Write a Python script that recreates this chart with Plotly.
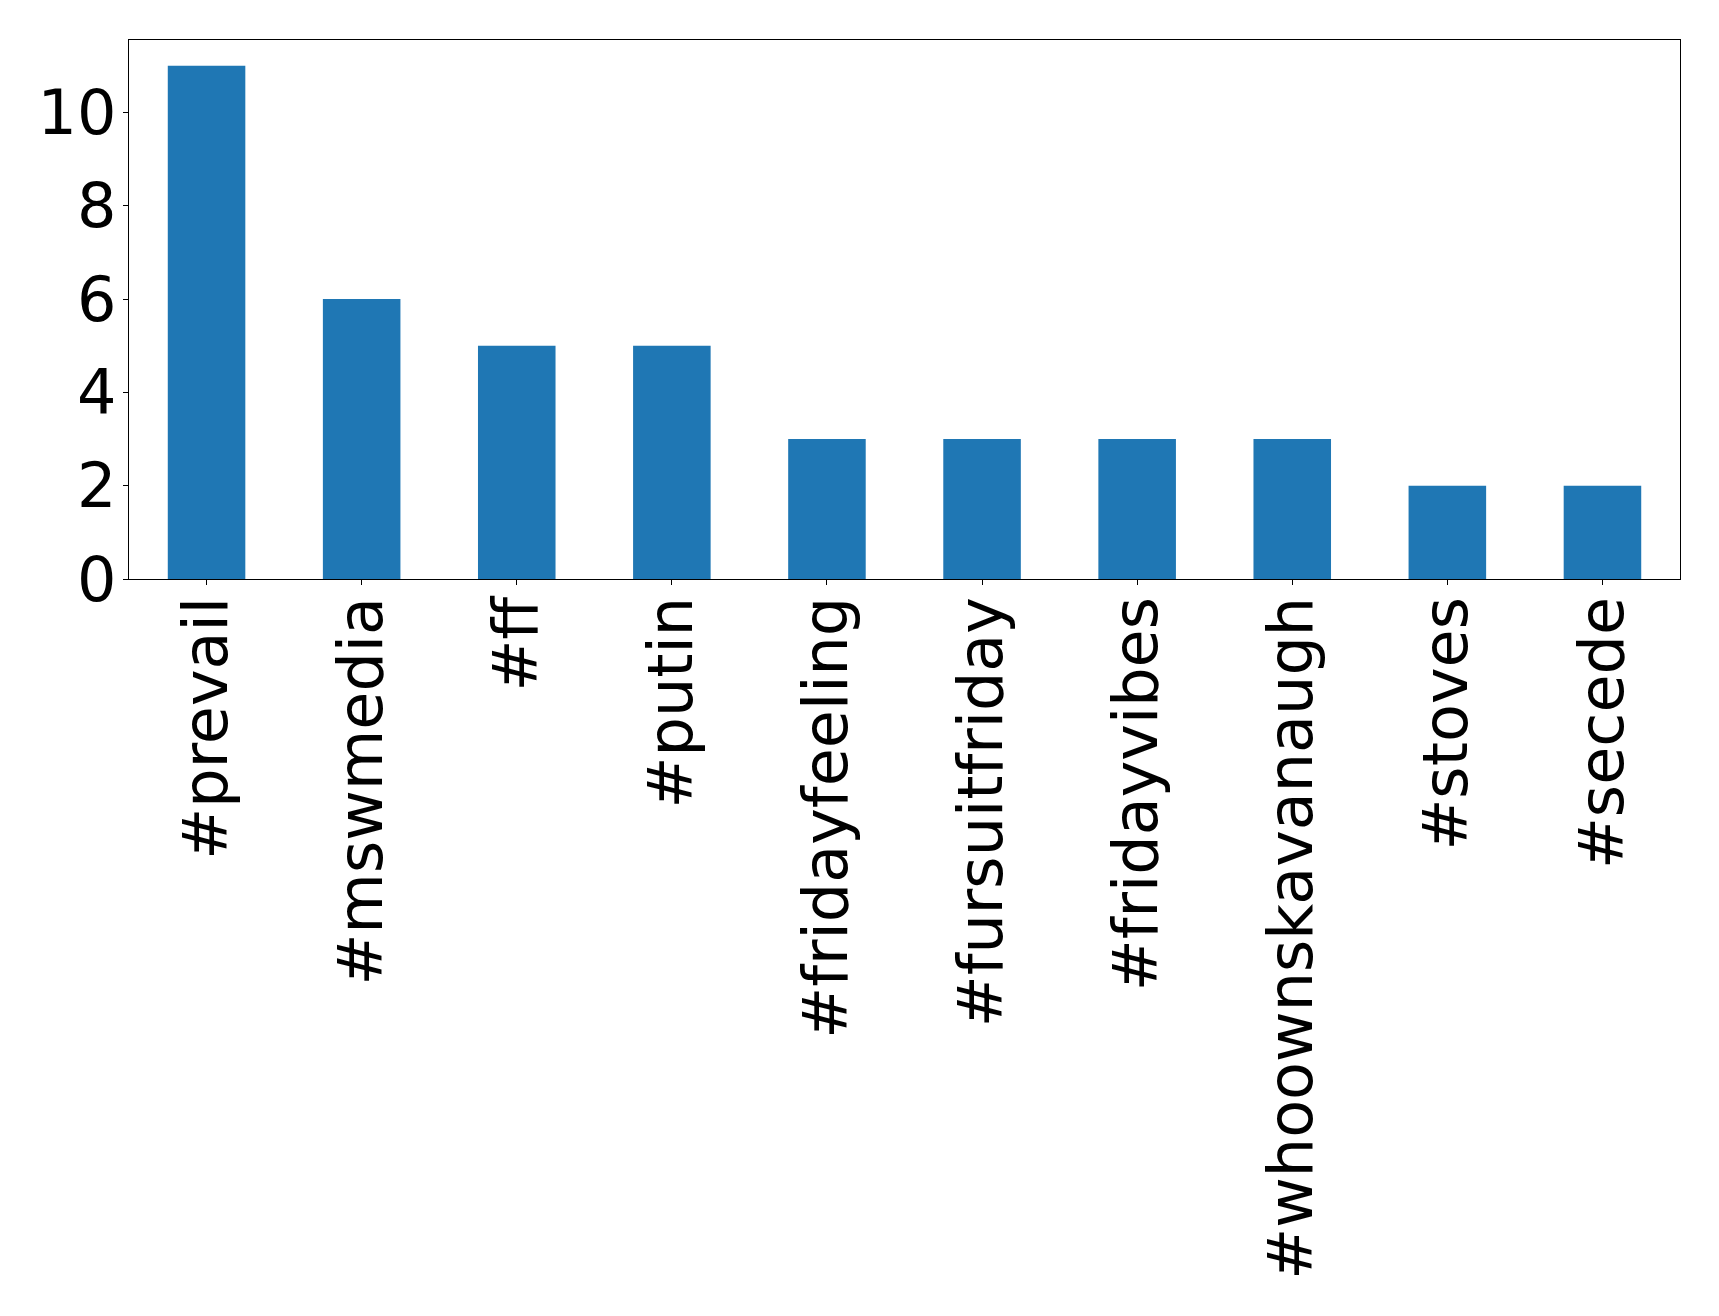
import plotly.graph_objects as go

categories = ["#prevail", "#mswmedia", "#ff", "#putin", "#fridayfeeling",
              "#fursuitfriday", "#fridayvibes", "#whoownskavanaugh", "#stoves", "#secede"]
counts = [11, 6, 5, 5, 3, 3, 3, 3, 2, 2]

fig = go.Figure(go.Bar(x=categories, y=counts, marker=dict(color="#1f77b4", line=dict(width=0))))

font = dict(family="DejaVu Sans", size=62, color="black")
fig.update_layout(
    width=1719, height=1316,
    margin=dict(l=129, r=39, t=40, b=737),
    paper_bgcolor="white", plot_bgcolor="white",
    bargap=0.5, showlegend=False, font=font,
)
fig.update_xaxes(
    range=[-0.5, 9.5], tickangle=-90, tickfont=font, automargin=False,
    showline=True, mirror=True, linecolor="black", linewidth=1.3,
    ticks="outside", ticklen=5, tickcolor="black", showgrid=False,
    ticklabelstandoff=-13,
)
fig.update_yaxes(
    range=[0, 11.55], tickvals=[0, 2, 4, 6, 8, 10], tickfont=font, automargin=False,
    showline=True, mirror=True, linecolor="black", linewidth=1.3,
    ticks="outside", ticklen=5, tickcolor="black", showgrid=False, zeroline=False,
    ticklabelstandoff=-6,
)
fig.write_html("out.html")
